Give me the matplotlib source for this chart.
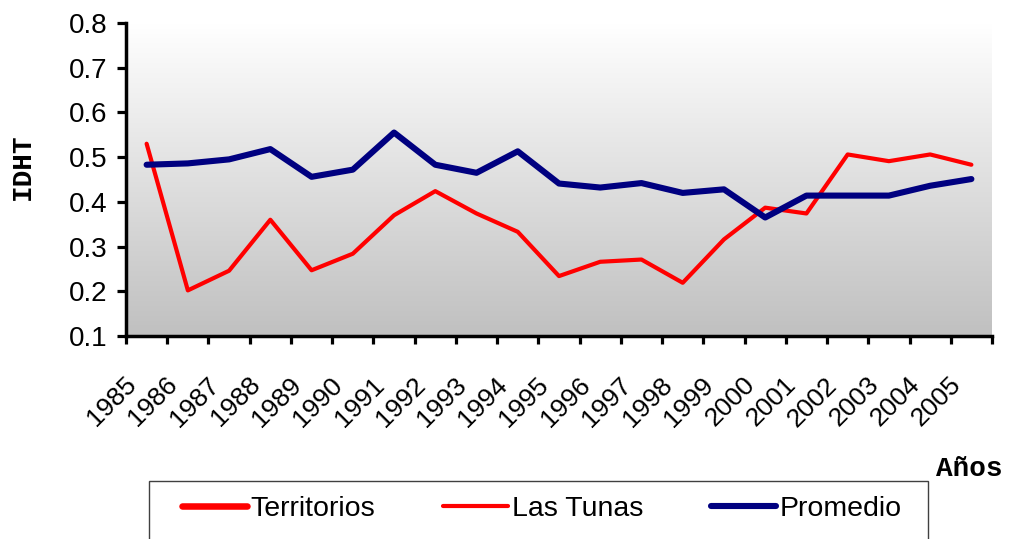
import numpy as np
import matplotlib
matplotlib.use("Agg")
import matplotlib.pyplot as plt
from matplotlib.colors import LinearSegmentedColormap
from matplotlib.patches import Rectangle
from matplotlib.font_manager import FontProperties
from matplotlib.transforms import ScaledTranslation

plt.rcParams['font.family'] = ['Liberation Sans', 'DejaVu Sans']

# ---- data ----
years = ["1985", "1986", "1987", "1988", "1989", "1990", "1991", "1992", "1993", "1994",
         "1995", "1996", "1997", "1998", "1999", "2000", "2001", "2002", "2003", "2004", "2005"]
territorios = []  # appears only in the legend
las_tunas = [0.53, 0.202, 0.246, 0.360, 0.247, 0.284, 0.370, 0.424, 0.374, 0.333,
             0.234, 0.266, 0.271, 0.219, 0.316, 0.387, 0.374, 0.506, 0.491, 0.506, 0.483]
promedio = [0.483, 0.486, 0.495, 0.518, 0.456, 0.472, 0.555, 0.483, 0.465, 0.513,
            0.441, 0.432, 0.442, 0.420, 0.428, 0.365, 0.414, 0.414, 0.414, 0.436, 0.451]
y_ticks = [0.1, 0.2, 0.3, 0.4, 0.5, 0.6, 0.7, 0.8]
y_tick_labels = ["0.1", "0.2", "0.3", "0.4", "0.5", "0.6", "0.7", "0.8"]

W, H = 1011, 539
fig = plt.figure(figsize=(W / 100, H / 100), dpi=100)
ax = fig.add_axes([126 / W, 1 - 336 / H, 866 / W, 313 / H])

n = len(years)
x = np.arange(n) + 0.5

# gradient background
cmap = LinearSegmentedColormap.from_list('g', ['#ffffff', '#c0c0c0'])
grad = np.linspace(0, 1, 256).reshape(-1, 1)
ax.imshow(grad, extent=(0, n, 0.1, 0.8), aspect='auto', cmap=cmap,
          origin='upper', zorder=0, interpolation='bilinear')

l_terr, = ax.plot(territorios, territorios, color='#ff0000', lw=4.7,
                  solid_capstyle='round', label='Territorios')
l_lt, = ax.plot(x, las_tunas, color='#ff0000', lw=3.0, solid_capstyle='round',
                label='Las Tunas', zorder=3)
l_pr, = ax.plot(x, promedio, color='#000080', lw=4.4, solid_capstyle='round',
                label='Promedio', zorder=4)

ax.set_xlim(0, n)
ax.set_ylim(0.1, 0.8)

# x axis: ticks at category boundaries, labels at centres
ax.set_xticks(np.arange(n + 1))
ax.set_xticklabels([])
ax.set_xticks(x, minor=True)
ax.set_xticklabels(years, minor=True, rotation=45, ha='right', va='baseline',
                   rotation_mode='anchor', fontsize=19)
ax.tick_params(axis='x', which='major', direction='out', length=6, width=2.3, color='black')
ax.tick_params(axis='x', which='minor', length=0, pad=36)
shift = ScaledTranslation(-9 / 100, 0, fig.dpi_scale_trans)
for lbl in ax.xaxis.get_minorticklabels():
    lbl.set_transform(lbl.get_transform() + shift)

ax.set_yticks(y_ticks)
ax.set_yticklabels(y_tick_labels, fontsize=20)
ax.tick_params(axis='y', direction='out', length=6.5, width=2.3, pad=7)

for s in ['top', 'right']:
    ax.spines[s].set_visible(False)
for s in ['left', 'bottom']:
    ax.spines[s].set_linewidth(2.5)
    ax.spines[s].set_color('black')

mono = FontProperties(family='Liberation Mono', weight='bold', size=20)
fig.text(22.5 / W, 1 - 166.5 / H, 'IDHT', rotation=90, ha='center', va='center',
         fontproperties=mono)
fig.text(969 / W, 1 - 475.5 / H, 'Años', ha='center', va='baseline', fontproperties=mono)

# legend
fig.patches.append(Rectangle((149 / W, -0.05), 779 / W, (1 - 481 / H) + 0.05,
                             transform=fig.transFigure, fill=False, ec='#404040',
                             lw=1.0, zorder=5))
fig.legend([l_terr, l_lt, l_pr], ['Territorios', 'Las Tunas', 'Promedio'],
           loc='center left', bbox_to_anchor=(182 / W, 1 - 509 / H), ncol=3,
           frameon=False, borderpad=0, borderaxespad=0, handlelength=2.3,
           handletextpad=0.115, columnspacing=2.37,
           prop=FontProperties(family='Liberation Sans', size=20.5))

fig.savefig('out.png', dpi=100)
